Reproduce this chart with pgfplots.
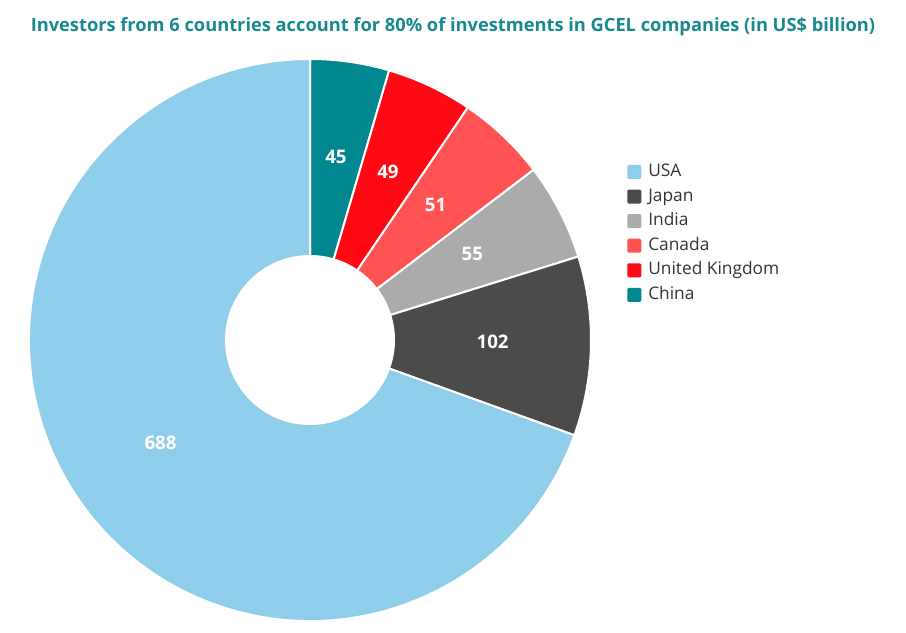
\documentclass[border=0pt]{standalone}
\usepackage{fontspec}
\setmainfont{Open Sans}
\usepackage{pgfplots}
\usepackage{pgfplotstable}
\pgfplotsset{compat=1.18}

\definecolor{c0}{HTML}{00878F}% China
\definecolor{c1}{HTML}{FF0A14}% United Kingdom
\definecolor{c2}{HTML}{FF5252}% Canada
\definecolor{c3}{HTML}{ABABAB}% India
\definecolor{c4}{HTML}{4B4B4B}% Japan
\definecolor{c5}{HTML}{8ECEEA}% USA
\definecolor{titleteal}{HTML}{17898F}
\definecolor{legtext}{HTML}{333333}

% slices clockwise from 12 o'clock
\pgfplotstableread{
country value
China 45
{United Kingdom} 49
Canada 51
India 55
Japan 102
USA 688
}\datatable

% total and angles
\gdef\total{0}%
\foreach \i in {0,...,5}{%
  \pgfplotstablegetelem{\i}{value}\of\datatable
  \pgfmathparse{\total+\pgfplotsretval}\xdef\total{\pgfmathresult}%
}%
\gdef\cum{0}%
\foreach \i in {0,...,5}{%
  \pgfplotstablegetelem{\i}{value}\of\datatable
  \let\myv\pgfplotsretval
  \pgfmathsetmacro\sa{90-(\cum/\total)*360}%
  \pgfmathsetmacro\ea{90-((\cum+\myv)/\total)*360}%
  \pgfmathsetmacro\ma{(\sa+\ea)/2}%
  \expandafter\xdef\csname sa\i\endcsname{\sa}%
  \expandafter\xdef\csname ea\i\endcsname{\ea}%
  \expandafter\xdef\csname ma\i\endcsname{\ma}%
  \expandafter\xdef\csname val\i\endcsname{\myv}%
  \pgfmathparse{\cum+\myv}\xdef\cum{\pgfmathresult}%
}%

\begin{document}
\begin{tikzpicture}
\begin{axis}[
  x=0.75pt, y=0.75pt,
  xmin=0, xmax=906, ymin=0, ymax=632,
  hide axis,
  clip=false,
  legend style={
    at={(axis cs:627,471)}, anchor=north west,
    draw=none, fill=none,
    font=\fontsize{13}{15.6}\selectfont,
    text=legtext,
    row sep=2.45pt,
    inner sep=0pt,
    nodes={inner sep=1.5pt, text height=10pt, text depth=3pt},
    /tikz/every odd column/.style={column sep=3.75pt},
  },
  legend cell align=left,
  legend image code/.code={
    \fill[#1, draw=none, rounded corners=1pt] (0pt,-5.25pt) rectangle (10.5pt,5.25pt);
  },
]
\path (axis cs:0,0) rectangle (axis cs:906,632);

\pgfplotsinvokeforeach{0,...,5}{
  \fill[overlay, fill=c#1, draw=white, line width=1.5pt, line join=round]
    ([shift={(\csname sa#1\endcsname:210.75pt)}]axis cs:310,292)
    arc[start angle=\csname sa#1\endcsname, end angle=\csname ea#1\endcsname, radius=210.75pt]
    -- ([shift={(\csname ea#1\endcsname:63pt)}]axis cs:310,292)
    arc[start angle=\csname ea#1\endcsname, end angle=\csname sa#1\endcsname, radius=63pt]
    -- cycle;
  \node[text=white, font=\bfseries\fontsize{14}{16}\selectfont,
        text height=10pt, text depth=0pt, inner sep=0pt, yshift=2pt]
    at ([shift={(\csname ma#1\endcsname:137pt)}]axis cs:310,292) {\csname val#1\endcsname};
}

\addlegendimage{fill=c5}\addlegendentry{USA}
\addlegendimage{fill=c4}\addlegendentry{Japan}
\addlegendimage{fill=c3}\addlegendentry{India}
\addlegendimage{fill=c2}\addlegendentry{Canada}
\addlegendimage{fill=c1}\addlegendentry{United Kingdom}
\addlegendimage{fill=c0}\addlegendentry{China}

\node[text=titleteal, font=\bfseries\fontsize{13.7}{16}\selectfont]
  at (axis cs:453,605) {Investors from 6 countries account for 80\% of investments in GCEL companies (in US\$ billion)};
\end{axis}
\end{tikzpicture}
\end{document}
